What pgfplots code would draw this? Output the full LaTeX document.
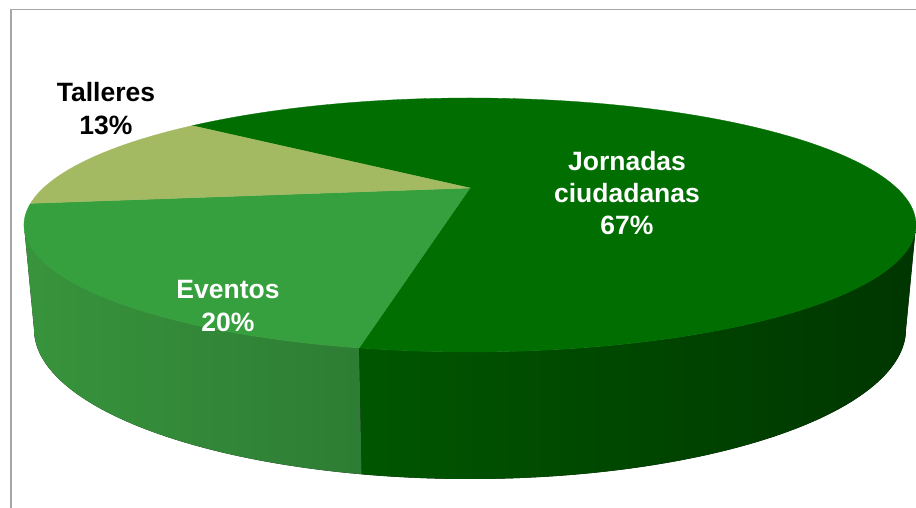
\documentclass[border=0pt]{standalone}
\usepackage{fontspec}
\setmainfont{Liberation Sans}
\usepackage{pgfplots}
\usepackage{pgfplotstable}
\pgfplotsset{compat=1.18}

\definecolor{jorTop}{RGB}{0,110,0}
\definecolor{jorWallL}{RGB}{0,86,0}
\definecolor{jorWallR}{RGB}{0,54,0}
\definecolor{eveTop}{RGB}{55,160,62}
\definecolor{eveWallL}{RGB}{56,148,60}
\definecolor{eveWallR}{RGB}{45,125,52}
\definecolor{talTop}{RGB}{163,185,98}
\definecolor{frame}{RGB}{166,166,166}

% share of each slice, in the order Excel draws them (clockwise)
\pgfplotstableread{
name value
Jornadas 67
Eventos 20
Talleres 13
}\piedata

% geometry of the 3-D pie (pixel units, y up)
\def\cx{470}   % centre x
\def\cyt{283}  % centre of the top ellipse
\def\cyv{320}  % where the pie centre appears (perspective)
\def\rxt{446}  \def\ryt{127}
\def\cyb{179}  \def\rxb{436} \def\ryb{150}
\def\cshift{0.291}
\def\startangle{140.5}

% true angle -> parametric angle on the top ellipse
\newcommand\toellipse[2]{%
  \pgfmathsetmacro\tmpu{sqrt(1-\cshift^2)*cos(#1)/(1+\cshift*sin(#1))}%
  \pgfmathsetmacro\tmpv{(sin(#1)+\cshift)/(1+\cshift*sin(#1))}%
  \pgfmathsetmacro\tmpt{atan2(\tmpv,\tmpu)}%
  \pgfmathsetmacro#2{\tmpt+360*round((#1-\tmpt)/360)}%
}

\newcommand\drawtop[3]{%
  \edef\next{\noexpand\fill[#3, draw=#3, line width=0.3pt]
    (axis cs:\cx,\cyv) -- (axis cs:{\cx+\rxt*cos(#1)},{\cyt+\ryt*sin(#1)})
    arc[start angle=#1, end angle=#2, x radius=\rxt pt, y radius=\ryt pt] -- cycle;}%
  \next}

\newcommand\drawwall[4]{%
  \pgfmathsetmacro\wa{max(#2,-180)}%
  \pgfmathsetmacro\wb{min(#1,0)}%
  \pgfmathtruncatemacro\wok{\wa<\wb}%
  \ifnum\wok=1
    \edef\next{\noexpand\fill[left color=#3, right color=#4]
      (axis cs:{\cx+\rxt*cos(\wb)},{\cyt+\ryt*sin(\wb)})
      arc[start angle=\wb, end angle=\wa, x radius=\rxt pt, y radius=\ryt pt]
      -- (axis cs:{\cx+\rxb*cos(\wa)},{\cyb+\ryb*sin(\wa)})
      arc[start angle=\wa, end angle=\wb, x radius=\rxb pt, y radius=\ryb pt] -- cycle;}%
    \next
  \fi}

\newcommand\labelfont{\fontsize{26.5}{30}\selectfont\bfseries}

\begin{document}
\begin{tikzpicture}
\pgfplotstablegetelem{0}{value}\of\piedata \let\vA\pgfplotsretval
\pgfplotstablegetelem{1}{value}\of\piedata \let\vB\pgfplotsretval
\pgfplotstablegetelem{2}{value}\of\piedata \let\vC\pgfplotsretval
\pgfmathsetmacro\total{\vA+\vB+\vC}
\pgfmathsetmacro\pA{\startangle}
\pgfmathsetmacro\pB{\pA-360*(\vA/\total)}
\pgfmathsetmacro\pC{\pB-360*(\vB/\total)}
\pgfmathsetmacro\pD{\pC-360*(\vC/\total)}
\toellipse{\pA}{\tA}
\toellipse{\pB}{\tB}
\toellipse{\pC}{\tC}
\toellipse{\pD}{\tD}

\begin{axis}[
    hide axis,
    x=1pt, y=1pt,
    xmin=0, xmax=916,
    ymin=0, ymax=508,
]
\coordinate (bl) at (axis cs:0,0);
\coordinate (tr) at (axis cs:916,508);

% side walls (front half only)
\drawwall{\tA}{\tB}{jorWallL}{jorWallR}
\drawwall{\tB}{\tC}{eveWallL}{eveWallR}
\drawwall{\tC}{\tD}{talTop!80!black}{talTop!70!black}

% top faces
\drawtop{\tA}{\tB}{jorTop}
\drawtop{\tB}{\tC}{eveTop}
\drawtop{\tC}{\tD}{talTop}

% frame
\draw[frame, line width=1.5pt] (axis cs:11,0) -- (axis cs:11,498.5) -- (axis cs:916,498.5);

% labels
\node[anchor=base, text=white, font=\labelfont] at (axis cs:627,337) {Jornadas};
\node[anchor=base, text=white, font=\labelfont] at (axis cs:627,305) {ciudadanas};
\node[anchor=base, text=white, font=\labelfont] at (axis cs:627,273) {67\%};
\node[anchor=base, text=white, font=\labelfont] at (axis cs:228,209) {Eventos};
\node[anchor=base, text=white, font=\labelfont] at (axis cs:228,176) {20\%};
\node[anchor=base, text=black, font=\labelfont] at (axis cs:106,406) {Talleres};
\node[anchor=base, text=black, font=\labelfont] at (axis cs:106,373) {13\%};
\end{axis}
\pgfresetboundingbox
\path[use as bounding box] (bl) rectangle (tr);
\end{tikzpicture}
\end{document}
